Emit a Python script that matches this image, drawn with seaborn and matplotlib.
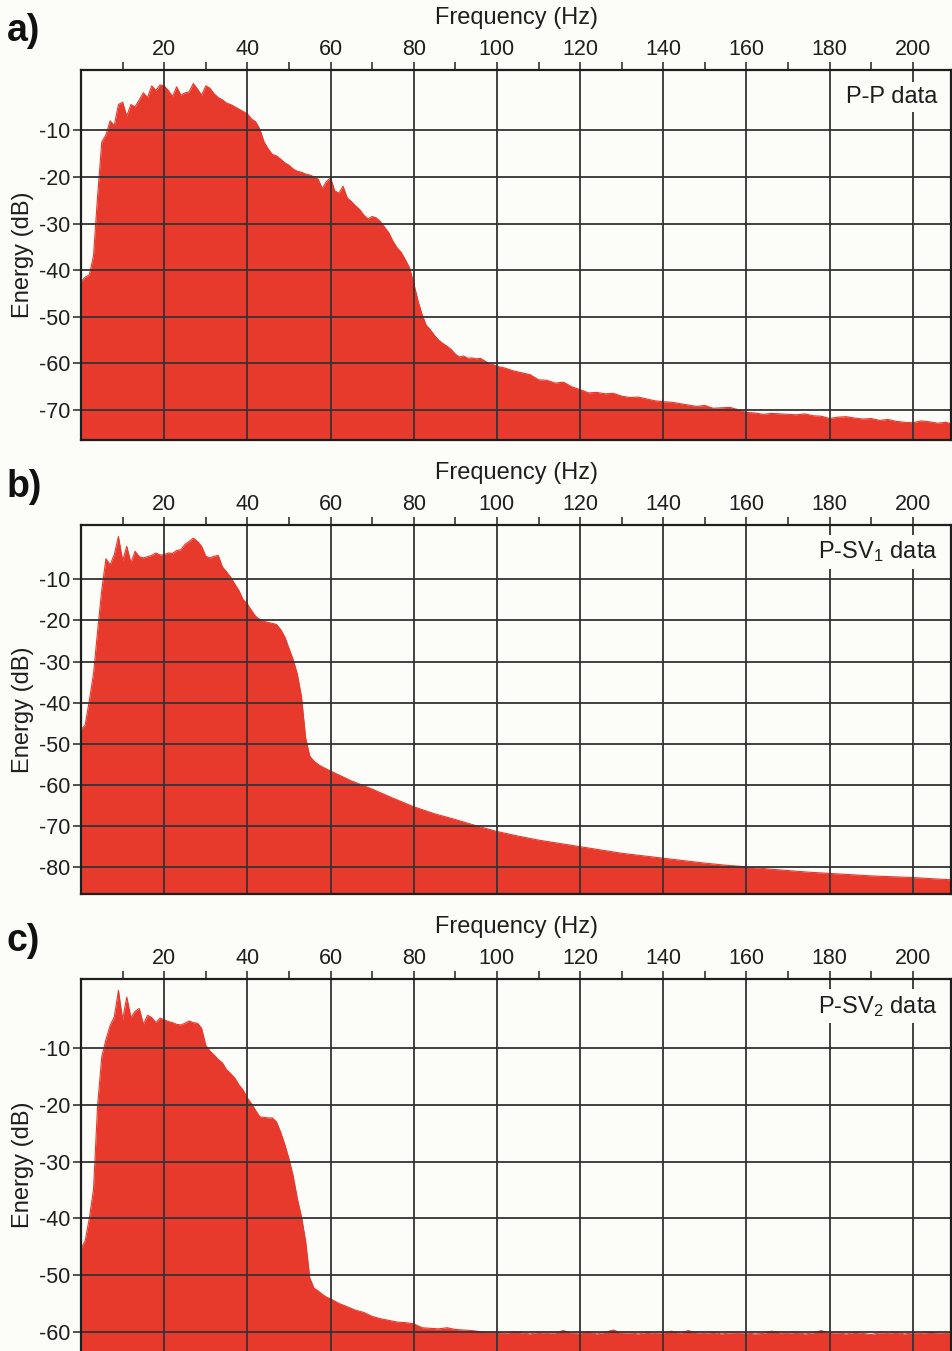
import numpy as np
import pandas as pd
import matplotlib
matplotlib.use("Agg")
import matplotlib.pyplot as plt
from matplotlib.ticker import FixedLocator
import seaborn as sns

# ---------------- data ----------------
# Panel a) P-P data
freq_a = list(range(0, 101)) + list(range(102, 211, 2))
energy_a = [
    -42.5, -41.5, -41.0, -37.0, -24.0, -12.5, -11.0, -8.0, -9.0, -4.5,
    -4.0, -7.0, -4.5, -5.0, -3.5, -2.0, -3.0, -0.5, -1.5, -0.3,
    -0.5, -1.5, -2.8, -0.7, -2.5, -2.0, -1.8, 0.0, -1.2, -2.5,
    -0.5, -1.0, -2.2, -3.0, -3.5, -4.2, -4.5, -5.0, -5.5, -6.0,
    -6.5, -7.6, -8.2, -9.8, -12.5, -14.0, -15.2, -15.5, -16.2, -17.0,
    -17.5, -18.3, -18.8, -19.0, -19.4, -19.6, -20.0, -20.5, -22.5, -21.0,
    -20.2, -23.0, -23.5, -22.0, -24.5, -25.3, -26.2, -27.0, -28.2, -29.0,
    -28.5, -28.8, -29.6, -30.8, -32.0, -33.8, -35.2, -36.2, -37.8, -39.5,
    -42.8, -46.5, -49.5, -51.8, -52.8, -54.0, -55.0, -55.7, -56.3, -57.0,
    -58.0, -58.6, -58.4, -58.9, -58.8, -59.0, -58.9, -59.4, -60.0, -60.2,
    -60.6,
    -61.0, -61.6, -62.0, -62.4, -63.5, -63.6, -64.2, -64.0, -65.0, -65.6,
    -66.3, -66.2, -66.5, -66.4, -67.0, -67.3, -67.2, -67.6, -68.0, -68.2,
    -68.3, -68.6, -68.9, -69.2, -69.0, -69.6, -69.5, -69.4, -69.9, -70.5,
    -70.6, -70.9, -70.7, -70.8, -70.9, -71.0, -70.8, -71.2, -71.3, -71.8,
    -71.5, -71.4, -71.7, -71.9, -71.8, -72.2, -72.0, -72.4, -72.6, -72.7,
    -72.3, -72.5, -72.8, -72.6, -73.2,
]

# Panel b) P-SV1 data
freq_b = list(range(0, 61)) + list(range(65, 211, 5))
energy_b = [
    -46.6, -45.4, -39.5, -33.0, -22.5, -12.5, -5.0, -6.5, -4.0, 0.4,
    -5.5, -2.0, -6.0, -3.2, -4.5, -4.8, -4.5, -4.2, -3.6, -4.1,
    -4.0, -3.6, -3.7, -3.0, -2.8, -1.5, -0.8, 0.0, -0.8, -2.0,
    -4.4, -4.8, -4.4, -4.2, -7.0, -8.2, -9.5, -11.2, -12.8, -15.0,
    -16.0, -17.6, -19.0, -19.8, -20.2, -20.5, -20.7, -21.0, -22.2, -24.0,
    -26.8, -29.5, -33.0, -38.5, -48.5, -53.0, -54.2, -55.0, -55.6, -56.1,
    -56.6,
    -59.0, -61.0, -63.2, -65.3, -67.0, -68.4, -69.9, -71.3, -72.4, -73.4,
    -74.2, -75.0, -75.8, -76.6, -77.2, -77.8, -78.4, -79.0, -79.5, -79.9,
    -80.4, -80.8, -81.2, -81.5, -81.8, -82.1, -82.3, -82.5, -82.8, -83.1,
]

# Panel c) P-SV2 data
freq_c = list(range(0, 61)) + list(range(62, 211, 2))
energy_c = [
    -45.3, -44.0, -40.0, -35.0, -20.0, -11.5, -8.5, -6.0, -4.5, 0.2,
    -5.0, -1.0, -4.6, -3.5, -3.0, -5.8, -4.2, -4.6, -5.5, -4.7,
    -5.0, -5.3, -5.5, -5.8, -5.9, -5.6, -5.2, -5.5, -5.6, -6.5,
    -9.5, -10.5, -11.2, -12.0, -12.6, -13.8, -14.5, -15.3, -16.5, -17.4,
    -18.8, -19.8, -21.0, -22.1, -22.2, -22.3, -22.3, -23.0, -24.8, -27.0,
    -29.5, -32.5, -36.5, -39.7, -44.0, -50.5, -52.3, -52.8, -53.4, -53.9,
    -54.2,
    -55.0, -55.6, -56.2, -56.6, -57.3, -57.7, -58.0, -58.3, -58.4, -58.6,
    -59.3, -59.4, -59.5, -59.3, -59.6, -59.7, -59.8, -60.0, -60.1, -60.1,
    -60.3, -60.0, -60.2, -60.4, -60.1, -60.3, -60.2, -59.8, -60.3, -60.2,
    -60.0, -60.4, -60.1, -59.7, -60.3, -60.2, -60.4, -60.1, -60.3, -60.2,
    -59.9, -60.3, -59.8, -60.2, -60.3, -60.1, -60.4, -60.2, -60.3, -60.2,
    -60.4, -60.3, -59.9, -60.2, -60.3, -60.1, -60.4, -60.2, -59.8, -60.3,
    -60.2, -60.4, -60.1, -60.3, -60.5, -60.2, -60.3, -60.1, -60.4, -60.2,
    -60.3, -60.1, -60.2, -60.3, -60.2,
]

panel_letters = ["a)", "b)", "c)"]
panel_names = ["P-P data", "P-SV$_1$ data", "P-SV$_2$ data"]
x_ticks = [20, 40, 60, 80, 100, 120, 140, 160, 180, 200]
x_minor = [10, 30, 50, 70, 90, 110, 130, 150, 170, 190]
y_ticks_a = [-10, -20, -30, -40, -50, -60, -70]
y_ticks_b = [-10, -20, -30, -40, -50, -60, -70, -80]
y_ticks_c = [-10, -20, -30, -40, -50, -60]

# ---------------- style ----------------
sns.set_theme(style="white")
plt.rcParams["font.family"] = ["Liberation Sans", "DejaVu Sans"]
plt.rcParams["mathtext.default"] = "regular"
plt.rcParams["axes.unicode_minus"] = False

RED = "#e8392d"
GRID = "#333333"
TXT = "#1e1e1e"
BG = "#fcfcf9"

W, H = 953, 1351
fig = plt.figure(figsize=(W / 100, H / 100), dpi=100, facecolor=BG)

def px_axes(left, top, right, bottom):
    return [left / W, 1 - bottom / H, (right - left) / W, (bottom - top) / H]

boxes = [px_axes(81, 70, 951.5, 440), px_axes(81, 525, 951.5, 894), px_axes(81, 979, 951.5, 1351)]
ylims = [(-76.4, 2.9), (-86.5, 3.2), (-63.4, 2.2)]
yticks = [y_ticks_a, y_ticks_b, y_ticks_c]
datasets = [(freq_a, energy_a), (freq_b, energy_b), (freq_c, energy_c)]
letter_y = [31, 487, 941]

for i in range(3):
    ax = fig.add_axes(boxes[i])
    ax.set_facecolor(BG)
    f, e = datasets[i]
    df = pd.DataFrame({"Frequency (Hz)": f, "Energy (dB)": e})
    ax.fill_between(df["Frequency (Hz)"], df["Energy (dB)"], -200, color=RED, lw=0, zorder=1)
    sns.lineplot(data=df, x="Frequency (Hz)", y="Energy (dB)", ax=ax, color=RED, lw=0.8, zorder=1.5)
    ax.set_xlim(0, 209.3)
    ax.set_ylim(*ylims[i])

    ax.xaxis.set_ticks_position("top")
    ax.xaxis.set_label_position("top")
    ax.xaxis.set_major_locator(FixedLocator(x_ticks))
    ax.xaxis.set_minor_locator(FixedLocator(x_minor))
    ax.set_yticks(yticks[i])
    ax.tick_params(axis="x", which="major", direction="out", length=6, width=1.2,
                   color=GRID, labelsize=15.5, pad=1, top=True, bottom=False,
                   labeltop=True, labelbottom=False)
    ax.tick_params(axis="x", which="minor", direction="out", length=6, width=1.2,
                   color=GRID, top=True, bottom=False)
    ax.tick_params(axis="y", which="major", direction="out", length=6, width=1.2,
                   color=GRID, labelsize=15.5, pad=2, left=True)
    ax.set_xlabel("Frequency (Hz)", fontsize=17, labelpad=11, color=TXT)
    ax.set_ylabel("Energy (dB)", fontsize=17, labelpad=3, color=TXT)
    for lab in ax.get_xticklabels() + ax.get_yticklabels():
        lab.set_color(TXT)

    ax.set_axisbelow(False)
    ax.grid(True, which="major", color=GRID, lw=1.3, zorder=2.5)

    for side, sp in ax.spines.items():
        sp.set_color(TXT)
        sp.set_linewidth(1.6)
        sp.set_zorder(3)
    if i == 2:
        ax.spines["bottom"].set_visible(False)

    ax.text(0.984, 0.927, panel_names[i], transform=ax.transAxes, ha="right", va="center",
            fontsize=17, color=TXT, zorder=4,
            bbox=dict(facecolor=BG, edgecolor="none", pad=3))

    fig.text(7 / W, 1 - letter_y[i] / H, panel_letters[i], fontsize=27, fontweight="bold",
             ha="left", va="center", color="#111111")

fig.savefig("out.png", dpi=100, facecolor=BG)
